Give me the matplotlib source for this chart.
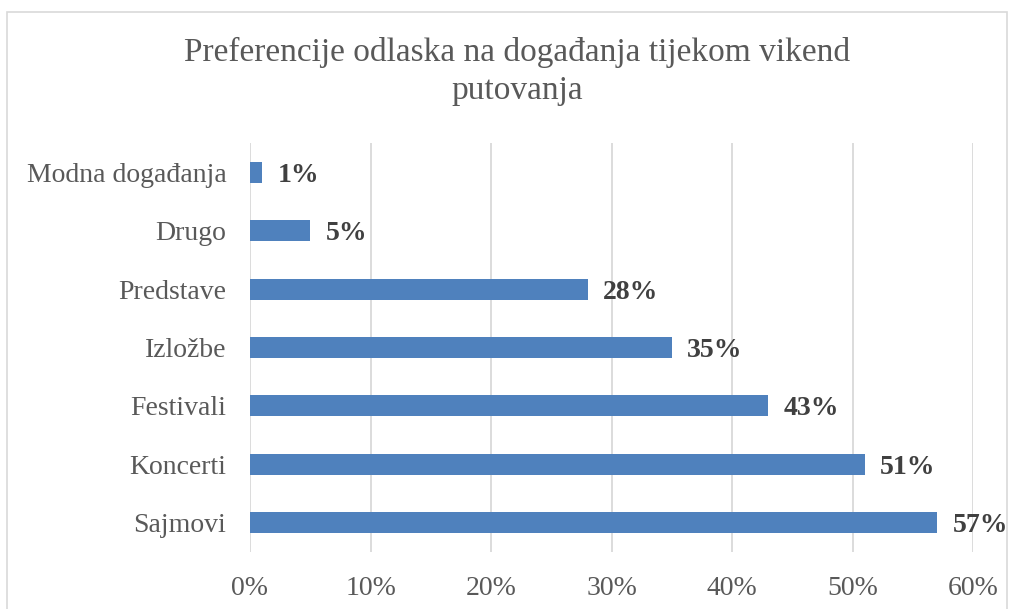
import matplotlib.pyplot as plt
from matplotlib.patches import Rectangle

# data (bottom to top as drawn)
categories = ['Sajmovi', 'Koncerti', 'Festivali', 'Izložbe', 'Predstave', 'Drugo', 'Modna događanja']
shares = [57, 51, 43, 35, 28, 5, 1]
x_ticks = [0, 10, 20, 30, 40, 50, 60]

title = 'Preferencije odlaska na događanja tijekom vikend\nputovanja'

plt.rcParams['font.family'] = ['Liberation Serif', 'DejaVu Serif']

W, H = 1014, 609
fig = plt.figure(figsize=(W / 100, H / 100), dpi=100)
ax = fig.add_axes([250 / W, 1 - 552 / H, (973.3 - 250) / W, (552 - 143) / H])

# chart border
fig.patches.append(Rectangle((7 / W, -0.1), (1007 - 7) / W, 1 - 12 / H + 0.1,
                             transform=fig.transFigure, fill=False,
                             edgecolor='#D9D9D9', linewidth=1.2))

ypos = list(range(len(categories)))
ax.barh(ypos, shares, height=0.36, color='#4F81BD', zorder=3)

for y, v in zip(ypos, shares):
    ax.annotate(f'{v}%', (v, y), xytext=(11, 0), textcoords='offset points',
                va='center_baseline', ha='left', fontsize=20, fontweight='bold', color='#404040')

ax.set_xlim(0, 60)
ax.set_ylim(-0.5, len(categories) - 0.5)
ax.set_xticks(x_ticks)
ax.set_xticklabels([f'{t}%' for t in x_ticks])
ax.set_yticks(ypos)
ax.set_yticklabels(categories)
ax.tick_params(axis='both', length=0, labelsize=20, colors='#595959')
ax.tick_params(axis='y', pad=17)
ax.tick_params(axis='x', pad=17)
ax.xaxis.grid(True, color='#D9D9D9', linewidth=1.3, zorder=0)
for s in ax.spines.values():
    s.set_visible(False)

fig.text(517 / W, 1 - 37 / H, title, ha='center', va='top', fontsize=24,
         color='#595959', linespacing=1.3)

fig.savefig('out.png', dpi=100)
